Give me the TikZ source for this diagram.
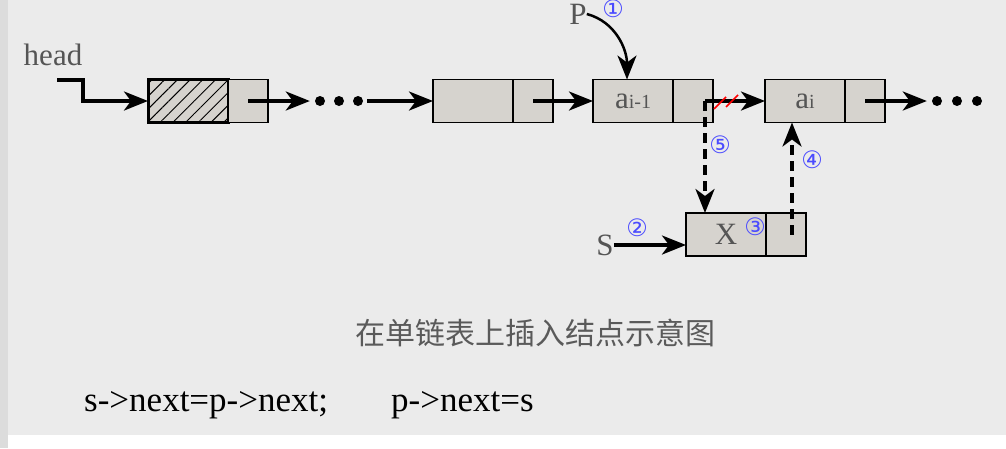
\documentclass[tikz,border=0pt]{standalone}
\usepackage{fontspec}
\setmainfont{Liberation Serif}
\newfontfamily\cjk{Noto Sans CJK SC}
\newfontfamily\symfont{DejaVu Sans}
\usepackage{tikz}
\usetikzlibrary{positioning}
\usetikzlibrary{arrows.meta}
\usetikzlibrary{patterns.meta}
\definecolor{bggray}{RGB}{235,235,235}
\definecolor{stripgray}{RGB}{220,220,220}
\definecolor{cellgray}{RGB}{214,211,206}
\definecolor{labelgray}{RGB}{85,85,85}
\definecolor{captiongray}{RGB}{90,90,90}
\definecolor{stepblue}{RGB}{75,75,255}

\begin{document}
\begin{tikzpicture}[
x=1pt, y=-1pt,
datacell/.style={rectangle, draw=black, fill=cellgray, line width=1.8pt, minimum width=80pt, minimum height=43pt, inner sep=0, outer sep=0, text=labelgray, font=\fontsize{31}{31}\selectfont},
ptrcell/.style={datacell, minimum width=40pt},
link/.style={line width=3.5pt, -{Stealth[length=24pt,width=19pt,inset=7pt]}},
dashlink/.style={link, dash pattern=on 10pt off 6pt},
lbl/.style={text=labelgray, font=\fontsize{31}{31}\selectfont, inner sep=0},
num/.style={text=stepblue, font=\symfont\fontsize{24}{24}\selectfont, inner sep=0},
dot/.style={circle, fill=black, minimum size=10pt, inner sep=0}
]
\useasboundingbox (0,0) rectangle (1006,448);
\fill[white] (0,0) rectangle (1006,448);
\fill[bggray] (0,0) rectangle (1006,435);
\fill[stripgray] (0,0) rectangle (8,448);

\node[lbl] (head) at (53,55) {head};
\node[datacell, anchor=north west, line width=3pt, postaction={pattern={Lines[angle=45,distance=9pt,line width=1pt]}}] (n1) at (148,79.5) {};
\node[ptrcell, right=0pt of n1] (n1p) {};
\node[dot] (d1) at (320,101) {};
\node[dot] (d2) at (339,101) {};
\node[dot] (d3) at (358,101) {};
\node[datacell, anchor=north west] (n2) at (433,79.5) {};
\node[ptrcell, right=0pt of n2] (n2p) {};
\node[datacell, anchor=north west] (n3) at (593,79.5) {a{\fontsize{20}{20}\selectfont i-1}};
\node[ptrcell, right=0pt of n3] (n3p) {};
\node[datacell, anchor=north west] (n4) at (765,79.5) {a{\fontsize{20}{20}\selectfont i}};
\node[ptrcell, right=0pt of n4] (n4p) {};
\node[dot] (e1) at (937,101) {};
\node[dot] (e2) at (957,101) {};
\node[dot] (e3) at (977,101) {};
\node[datacell, anchor=north west] (nx) at (686,213) {X};
\node[ptrcell, right=0pt of nx] (nxp) {};

\node[lbl] (p) at (578,14) {P};
\node[lbl] (s) at (605,245) {S};
\node[num] (c1) at (613,9) {①};
\node[num] (c2) at (637,228) {②};
\node[num] (c3) at (755,227) {③};
\node[num] (c4) at (812,160) {④};
\node[num] (c5) at (720,145) {⑤};
\coordinate (headin) at (57,80);
\coordinate (cut) at ([xshift=12pt]n3p.center);
\coordinate (back) at ([xshift=6pt]nxp.center);

\draw[link] (headin) -- ++(26,0) |- (n1.west);
\draw[link] (n1p.center) -- ([xshift=-5pt]d1.west);
\draw[link] ([xshift=4pt]d3.east) -- (n2.west);
\draw[link] (n2p.center) -- (n3.west);
\draw[link] (cut) -- (n4.west);
\draw[link] (n4p.center) -- ([xshift=-5pt]e1.west);
\draw[link, line width=2.5pt] (p.east) to[out=-15, in=90] ([xshift=34pt]n3.north west);
\draw[link] (s.east) -- (s -| nx.west);
\draw[dashlink] (cut) -- (cut |- nx.north);
\draw[dashlink] (back) -- (back |- n4.south);
\draw[red, line width=1.5pt] ([shift={(9,8)}]cut) -- ([shift={(21,-4)}]cut);
\draw[red, line width=1.5pt] ([shift={(21,6)}]cut) -- ([shift={(33,-6)}]cut);

\node[text=captiongray, font=\cjk\fontsize{30}{30}\selectfont] (caption) at (535,333) {在单链表上插入结点示意图};
\node[anchor=west, inner sep=0, font=\fontsize{35}{35}\selectfont] (code) at (84,405) {s->next=p->next;\hspace{63pt}p->next=s};
\end{tikzpicture}
\end{document}
